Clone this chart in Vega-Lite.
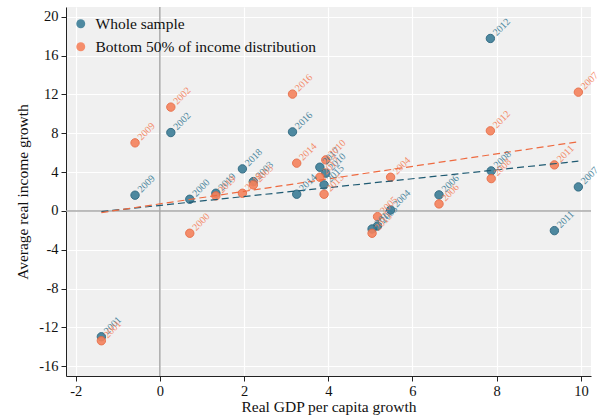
{
  "$schema": "https://vega.github.io/schema/vega-lite/v6.json",
  "width": 525,
  "height": 369,
  "autosize": "none",
  "padding": {"left": 66, "top": 7, "right": 13, "bottom": 43},
  "background": "white",
  "config": {
    "view": {"fill": "#f0f0f0", "stroke": null},
    "font": "Liberation Serif",
    "axis": {
      "labelFont": "Liberation Serif", "labelFontSize": 14.5, "labelColor": "#111",
      "titleFont": "Liberation Serif", "titleFontSize": 15.5, "titleFontWeight": "normal", "titleColor": "#111",
      "domainColor": "#222", "tickColor": "#222", "tickSize": 5, "gridColor": "white", "gridWidth": 1.2,
      "labelExpr": "toString(datum.value)"
    },
    "legend": {"labelFont": "Liberation Serif", "labelFontSize": 15.5, "labelColor": "#111", "labelLimit": 0}
  },
  "datasets": {
    "pts": [
      {"series": "Whole sample", "year": "2000", "gdp": 0.71, "inc": 1.2},
      {"series": "Whole sample", "year": "2001", "gdp": -1.39, "inc": -12.96},
      {"series": "Whole sample", "year": "2002", "gdp": 0.26, "inc": 8.07},
      {"series": "Whole sample", "year": "2003", "gdp": 2.22, "inc": 3.02},
      {"series": "Whole sample", "year": "2004", "gdp": 5.48, "inc": 0.1},
      {"series": "Whole sample", "year": "2005", "gdp": 5.17, "inc": -1.55},
      {"series": "Whole sample", "year": "2006", "gdp": 6.63, "inc": 1.65},
      {"series": "Whole sample", "year": "2007", "gdp": 9.94, "inc": 2.47},
      {"series": "Whole sample", "year": "2008", "gdp": 7.87, "inc": 4.12},
      {"series": "Whole sample", "year": "2009", "gdp": -0.59, "inc": 1.62},
      {"series": "Whole sample", "year": "2010", "gdp": 3.94, "inc": 3.89},
      {"series": "Whole sample", "year": "2011", "gdp": 9.37, "inc": -2.03},
      {"series": "Whole sample", "year": "2012", "gdp": 7.85, "inc": 17.76},
      {"series": "Whole sample", "year": "2013", "gdp": 5.04, "inc": -1.86},
      {"series": "Whole sample", "year": "2014", "gdp": 3.25, "inc": 1.72},
      {"series": "Whole sample", "year": "2015", "gdp": 3.9, "inc": 2.68},
      {"series": "Whole sample", "year": "2016", "gdp": 3.15, "inc": 8.14},
      {"series": "Whole sample", "year": "2017", "gdp": 3.8, "inc": 4.5},
      {"series": "Whole sample", "year": "2018", "gdp": 1.96, "inc": 4.33},
      {"series": "Whole sample", "year": "2019", "gdp": 1.33, "inc": 1.82},
      {"series": "Bottom 50% of income distribution", "year": "2000", "gdp": 0.71, "inc": -2.3},
      {"series": "Bottom 50% of income distribution", "year": "2001", "gdp": -1.39, "inc": -13.37},
      {"series": "Bottom 50% of income distribution", "year": "2002", "gdp": 0.26, "inc": 10.69},
      {"series": "Bottom 50% of income distribution", "year": "2003", "gdp": 2.22, "inc": 2.68},
      {"series": "Bottom 50% of income distribution", "year": "2004", "gdp": 5.48, "inc": 3.47},
      {"series": "Bottom 50% of income distribution", "year": "2005", "gdp": 5.17, "inc": -0.59},
      {"series": "Bottom 50% of income distribution", "year": "2006", "gdp": 6.63, "inc": 0.72},
      {"series": "Bottom 50% of income distribution", "year": "2007", "gdp": 9.94, "inc": 12.23},
      {"series": "Bottom 50% of income distribution", "year": "2008", "gdp": 7.87, "inc": 3.33},
      {"series": "Bottom 50% of income distribution", "year": "2009", "gdp": -0.59, "inc": 7.01},
      {"series": "Bottom 50% of income distribution", "year": "2010", "gdp": 3.94, "inc": 5.26},
      {"series": "Bottom 50% of income distribution", "year": "2011", "gdp": 9.37, "inc": 4.74},
      {"series": "Bottom 50% of income distribution", "year": "2012", "gdp": 7.85, "inc": 8.25},
      {"series": "Bottom 50% of income distribution", "year": "2013", "gdp": 5.04, "inc": -2.3},
      {"series": "Bottom 50% of income distribution", "year": "2014", "gdp": 3.25, "inc": 4.92},
      {"series": "Bottom 50% of income distribution", "year": "2015", "gdp": 3.9, "inc": 1.72},
      {"series": "Bottom 50% of income distribution", "year": "2016", "gdp": 3.15, "inc": 12.03},
      {"series": "Bottom 50% of income distribution", "year": "2017", "gdp": 3.8, "inc": 3.47},
      {"series": "Bottom 50% of income distribution", "year": "2018", "gdp": 1.96, "inc": 1.82},
      {"series": "Bottom 50% of income distribution", "year": "2019", "gdp": 1.33, "inc": 1.55}
    ],
    "fits": [
      {"series": "Whole sample", "gdp": -1.39, "inc": -0.07},
      {"series": "Whole sample", "gdp": 9.94, "inc": 5.12},
      {"series": "Bottom 50% of income distribution", "gdp": -1.39, "inc": -0.17},
      {"series": "Bottom 50% of income distribution", "gdp": 9.96, "inc": 7.14}
    ],
    "zx": [{"v": 0}],
    "zy": [{"v": 0}]
  },
  "layer": [
    {
      "data": {"name": "zx"},
      "mark": {"type": "rule", "color": "#a8a8a8", "strokeWidth": 1.5},
      "encoding": {"x": {"field": "v", "type": "quantitative", "scale": {"domain": [-2.23, 10.24], "nice": false, "zero": false},
              "axis": {"values": [-2, 0, 2, 4, 6, 8, 10], "title": "Real GDP per capita growth", "titlePadding": 2, "labelPadding": 3}}}
    },
    {
      "data": {"name": "zy"},
      "mark": {"type": "rule", "color": "#a8a8a8", "strokeWidth": 1.5},
      "encoding": {"y": {"field": "v", "type": "quantitative", "scale": {"domain": [-17, 21], "nice": false, "zero": false},
              "axis": {"values": [-16, -12, -8, -4, 0, 4, 8, 12, 16, 20], "title": "Average real income growth", "titlePadding": 8, "labelPadding": 3}}}
    },
    {
      "data": {"name": "pts"},
      "mark": {"type": "point", "filled": true, "size": 70, "opacity": 0.9, "strokeWidth": 1},
      "encoding": {
        "x": {"field": "gdp", "type": "quantitative"},
        "y": {"field": "inc", "type": "quantitative"},
        "color": {"field": "series", "type": "nominal",
                  "scale": {"domain": ["Whole sample", "Bottom 50% of income distribution"], "range": ["#3c7d97", "#f5825c"]},
                  "legend": {"title": null, "orient": "none", "legendX": 7, "legendY": 9, "symbolSize": 80, "rowPadding": 6, "labelOffset": 7, "symbolType": "circle", "symbolOpacity": 0.9}},
        "stroke": {"field": "series", "type": "nominal",
                   "scale": {"domain": ["Whole sample", "Bottom 50% of income distribution"], "range": ["#22607a", "#e8673f"]},
                   "legend": null}
      }
    },
    {
      "data": {"name": "fits"},
      "mark": {"type": "line", "strokeDash": [7, 4], "strokeWidth": 1.2},
      "encoding": {
        "x": {"field": "gdp", "type": "quantitative"},
        "y": {"field": "inc", "type": "quantitative"},
        "detail": {"field": "series"},
        "color": {"field": "series", "type": "nominal", "scale": {"domain": ["Whole sample", "Bottom 50% of income distribution"], "range": ["#1f5a72", "#ee6a40"]}, "legend": null}
      }
    },
    {
      "data": {"name": "pts"},
      "mark": {"type": "text", "angle": -45, "align": "left", "baseline": "middle", "dx": 6, "dy": 0, "fontSize": 10, "font": "Liberation Serif", "opacity": 0.9},
      "encoding": {
        "x": {"field": "gdp", "type": "quantitative"},
        "y": {"field": "inc", "type": "quantitative"},
        "text": {"field": "year"},
        "color": {"field": "series", "type": "nominal", "scale": {"domain": ["Whole sample", "Bottom 50% of income distribution"], "range": ["#3c7d97", "#f5825c"]}, "legend": null}
      }
    }
  ],
  "resolve": {"scale": {"color": "independent"}}
}
